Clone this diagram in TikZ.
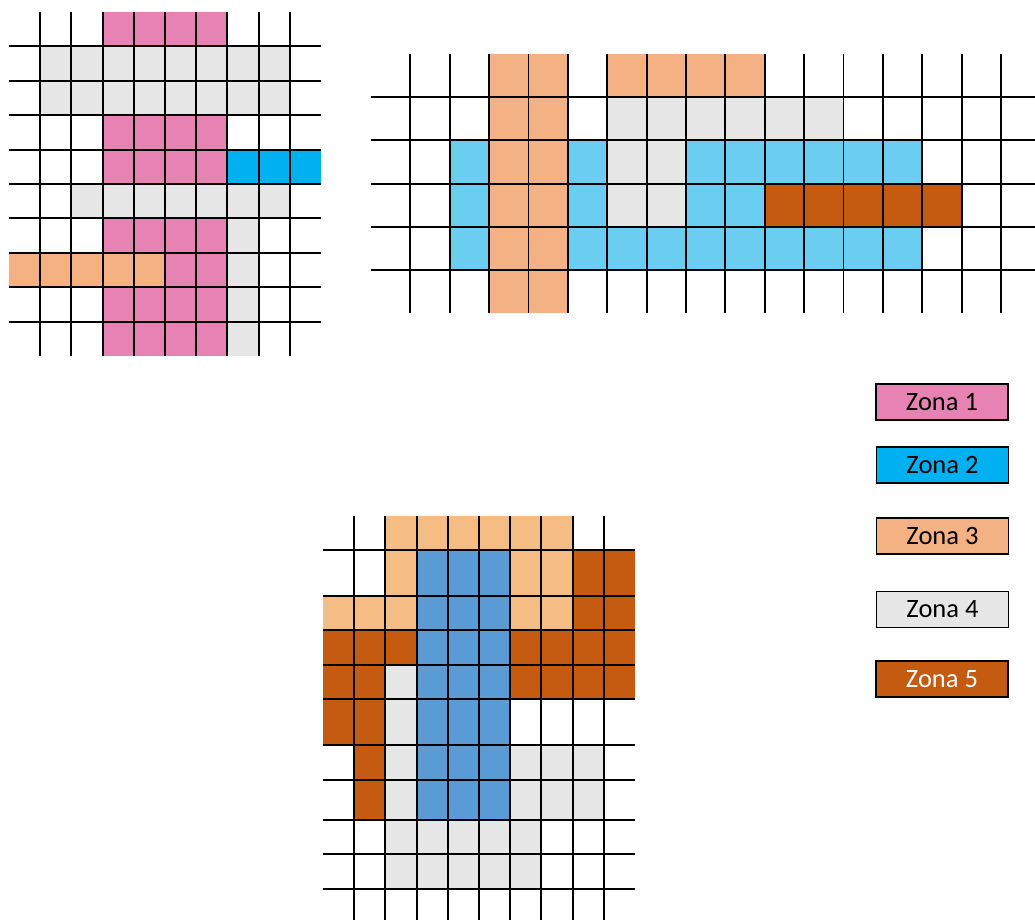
\documentclass[tikz,border=0pt]{standalone}
\usepackage{fontspec}
\setmainfont{Carlito}
\definecolor{zpink}{HTML}{E683B3}
\definecolor{zcyan}{HTML}{00B0F0}
\definecolor{zpeach}{HTML}{F4B183}
\definecolor{zgrey}{HTML}{E6E6E6}
\definecolor{zrust}{HTML}{C55A11}
\definecolor{zsky}{HTML}{6BCDEF}
\definecolor{zsteel}{HTML}{5B9BD5}
\definecolor{zsand}{HTML}{F5BC83}
\tikzset{
  zone1/.style={fill=zpink},
  zone2/.style={fill=zcyan},
  zone3/.style={fill=zpeach},
  zone4/.style={fill=zgrey},
  zone5/.style={fill=zrust},
  zsky/.style={fill=zsky},
  zsteel/.style={fill=zsteel},
  zsand/.style={fill=zsand},
  gline/.style={line width=1.9pt, draw=black, line cap=butt},
  zkey/.style={draw=black, line width=1.6pt, minimum width=132pt, minimum height=36pt,
    inner sep=0pt, font=\fontsize{26.5}{30}\selectfont},
}
\begin{document}
\begin{tikzpicture}[x=1pt, y=-1pt]
\useasboundingbox (0,0) rectangle (1035,920);
\fill[white] (0,0) rectangle (1035,920);

\begin{scope}[shift={(9,12)}, x=31.2pt, y=-34.4pt]
\fill[zone1] (3,0) rectangle (7,1);
\fill[zone4] (1,1) rectangle (9,3);
\fill[zone1] (3,3) rectangle (7,5);
\fill[zone2] (7,4) rectangle (10,5);
\fill[zone4] (2,5) rectangle (9,6);
\fill[zone1] (3,6) rectangle (7,7);
\fill[zone4] (7,6) rectangle (8,10);
\fill[zone3] (0,7) rectangle (5,8);
\fill[zone1] (5,7) rectangle (7,8);
\fill[zone1] (3,8) rectangle (7,10);
\foreach \r in {1,...,9} \draw[gline] (0,\r) -- (10,\r);
\foreach \c in {1,...,9} \draw[gline] (\c,0) -- (\c,10);
\end{scope}

\begin{scope}[shift={(371,54)}, x=39.375pt, y=-43.2pt]
\fill[zone3] (3,0) rectangle (5,6);
\fill[zone3] (6,0) rectangle (10,1);
\fill[zone4] (6,1) rectangle (12,2);
\fill[zsky] (2,2) rectangle (3,5);
\fill[zsky] (5,2) rectangle (6,4);
\fill[zone4] (6,2) rectangle (8,4);
\fill[zsky] (8,2) rectangle (14,3);
\fill[zsky] (8,3) rectangle (10,4);
\fill[zone5] (10,3) rectangle (15,4);
\fill[zsky] (5,4) rectangle (14,5);
\foreach \r in {1,...,5} \draw[gline] (0,\r) -- (16.86,\r);
\foreach \c in {1,...,16} \draw[gline] (\c,0) -- (\c,6);
\end{scope}

\begin{scope}[shift={(323,0)}, x=31.2pt, y=-1pt]
\fill[zsand] (2,516) rectangle (8,550);
\fill[zsand] (2,550) rectangle (3,630);
\fill[zsand] (0,596) rectangle (2,630);
\fill[zsand] (6,550) rectangle (8,630);
\fill[zsteel] (3,550) rectangle (6,820);
\fill[zone5] (8,550) rectangle (10,699);
\fill[zone5] (6,630) rectangle (8,699);
\fill[zone5] (0,630) rectangle (3,665);
\fill[zone5] (0,665) rectangle (2,745);
\fill[zone5] (1,745) rectangle (2,820);
\fill[zone4] (2,665) rectangle (3,820);
\fill[zone4] (6,745) rectangle (9,820);
\fill[zone4] (2,820) rectangle (7,889);
\foreach \r in {550,596,630,665,699,745,780,820,854,889} \draw[gline] (0,\r) -- (10,\r);
\foreach \c in {1,...,9} \draw[gline] (\c,516) -- (\c,920);
\end{scope}

\node[zkey, zone1] (zona1) at (942,402) {Zona 1};
\node[zkey, zone2] (zona2) at (942.5,465) {Zona 2};
\node[zkey, zone3] (zona3) at (942.5,536) {Zona 3};
\node[zkey, zone4] (zona4) at (942.5,609.5) {Zona 4};
\node[zkey, zone5, text=white] (zona5) at (942,679) {Zona 5};
\end{tikzpicture}
\end{document}
